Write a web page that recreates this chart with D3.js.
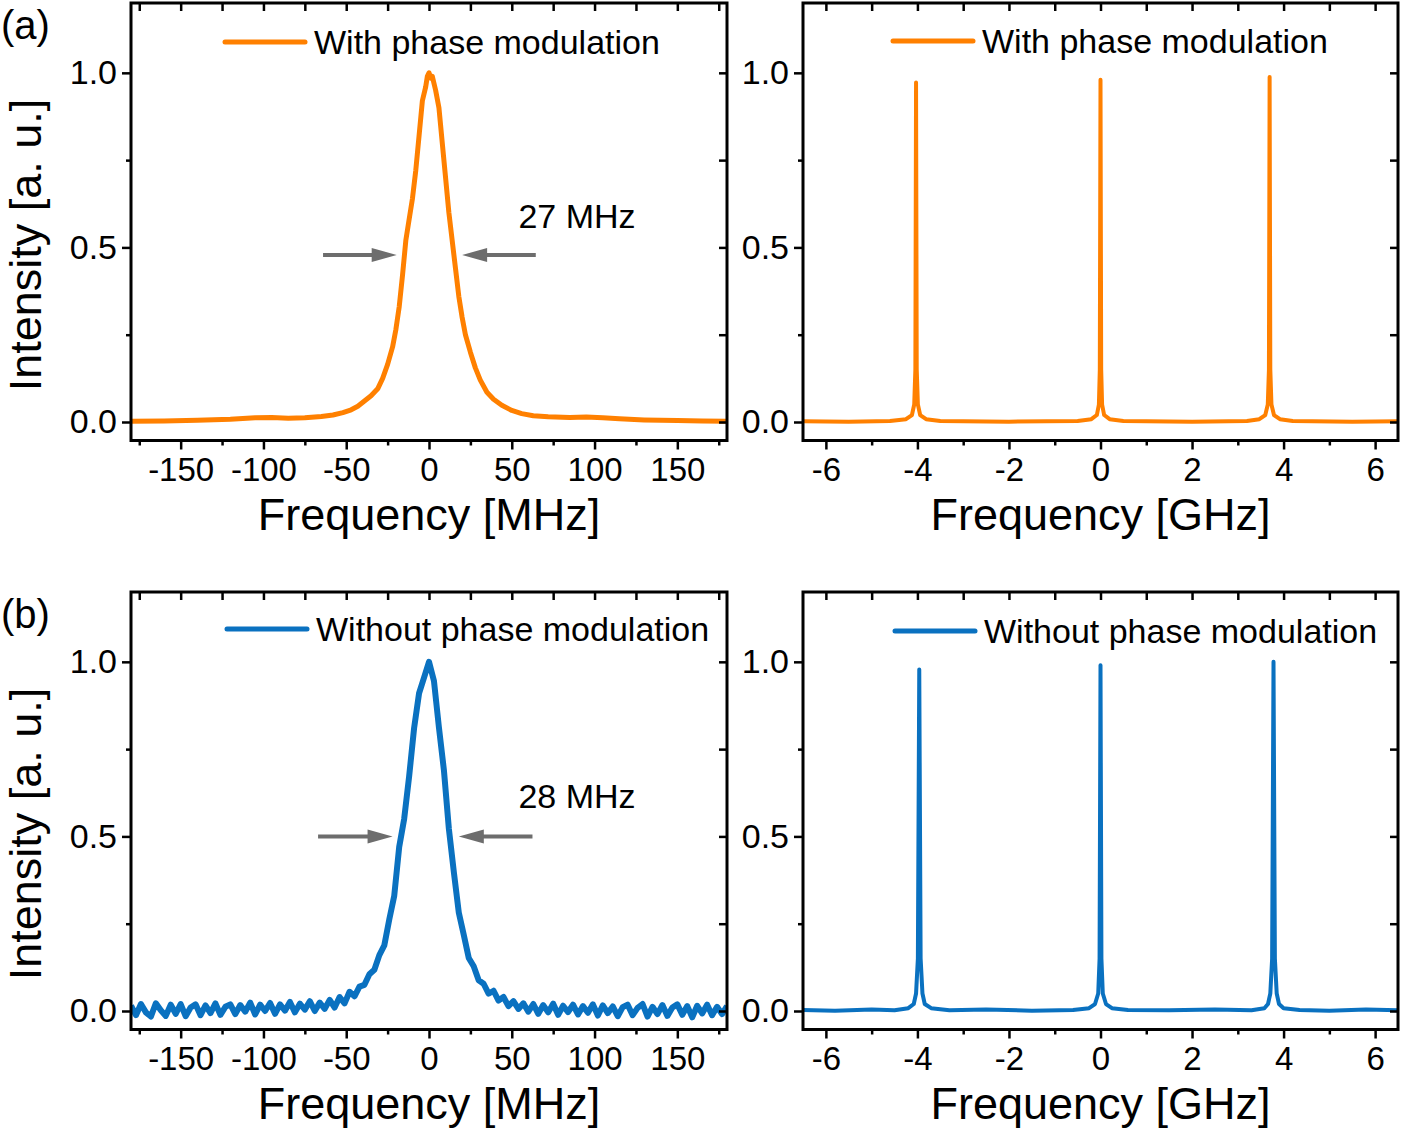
<!DOCTYPE html>
<meta charset="utf-8">
<style>
body { margin: 0; background: #fff; }
text { font-family: "Liberation Sans", Arial, sans-serif; fill: #000; }
</style>
<body>
<script src="https://d3js.org/d3.v7.min.js"></script>
<script>
// ---- data ----
// (a) left: with phase modulation, MHz scan
var mhzA = [-180,-160,-140,-120,-105,-95,-85,-75,-65,-58,-52,-47,-43,-39,-35,-31,-28,-25,-22,-20,
            -18,-16,-14,-12,-10,-8,-6,-4,-2,-1,0,1,2,4,6,8,10,12,14,16,
            18,20,22,25,28,31,35,39,44,50,56,63,72,85,95,105,115,130,150,165,180];
var intA = [0.002,0.003,0.005,0.008,0.012,0.013,0.011,0.012,0.016,0.020,0.027,0.035,0.045,0.060,0.075,0.095,0.125,0.165,0.215,0.265,
            0.33,0.42,0.52,0.58,0.64,0.72,0.82,0.92,0.96,0.99,1.0,0.985,0.99,0.95,0.90,0.80,0.70,0.60,0.52,0.44,
            0.36,0.30,0.25,0.20,0.155,0.12,0.085,0.065,0.048,0.033,0.024,0.018,0.015,0.013,0.014,0.012,0.009,0.006,0.004,0.003,0.002];

// (b) left: without phase modulation, sampled every 3 MHz from -180 to 180
var intB = [0.015,-0.012,0.020,-0.004,-0.016,0.022,0.002,-0.014,0.018,-0.008,
            0.020,-0.015,0.010,0.019,-0.012,0.016,-0.006,0.022,-0.011,0.012,
            0.019,-0.009,0.017,-0.002,0.024,-0.010,0.018,0.000,0.023,-0.008,
            0.019,0.001,0.026,-0.004,0.021,0.004,0.028,0.000,0.024,0.006,
            0.032,0.010,0.040,0.022,0.055,0.042,0.070,0.075,0.105,0.118,
            0.160,0.188,0.262,0.330,0.470,0.550,0.672,0.810,0.910,0.955,
            1.000,0.945,0.812,0.690,0.522,0.398,0.282,0.218,0.152,0.128,
            0.088,0.078,0.050,0.058,0.030,0.040,0.014,0.028,0.006,0.022,
            -0.002,0.020,-0.008,0.017,-0.004,0.021,-0.011,0.015,-0.003,0.018,
            -0.010,0.014,-0.005,0.019,-0.013,0.016,-0.006,0.013,-0.015,0.011,
            0.018,-0.012,0.009,0.020,-0.016,0.012,-0.009,0.017,-0.014,0.010,
            0.019,-0.011,0.014,-0.018,0.015,-0.007,0.018,-0.012,0.012,-0.009,
            0.014];
var mhzB = d3.range(-180, 180.1, 3);

// right panels: GHz scan
var ghzA = [-6.5,-5.5,-4.6,-4.25,-4.12,-4.07,-4.045,-4.03,-4.015,-3.99,-3.94,-3.81,-3.5,
            -2,-0.5,-0.2,-0.08,-0.035,-0.015,0,0.015,0.035,0.08,0.2,0.5,
            2,3.2,3.47,3.6,3.655,3.68,3.695,3.71,3.735,3.79,3.92,4.2,5.5,6.5];
var ghzIntA = [0.002,0.001,0.003,0.008,0.02,0.05,0.15,0.972,0.15,0.05,0.02,0.008,0.003,
               0.001,0.003,0.008,0.02,0.05,0.15,0.98,0.15,0.05,0.02,0.008,0.003,
               0.001,0.003,0.008,0.02,0.05,0.15,0.988,0.15,0.05,0.02,0.008,0.003,0.001,0.002];
var ghzB = [-6.5,-5.8,-5.0,-4.5,-4.2,-4.08,-4.03,-3.99,-3.96,-3.93,-3.89,-3.84,-3.7,-3.3,
            -2.5,-1.5,-0.6,-0.25,-0.12,-0.05,-0.02,0,0.02,0.05,0.12,0.25,0.6,
            1.5,2.5,3.3,3.58,3.66,3.71,3.75,3.78,3.81,3.85,3.9,4.0,4.35,5.0,5.8,6.5];
var ghzIntB = [0.003,0.001,0.004,0.002,0.008,0.02,0.05,0.15,0.978,0.15,0.05,0.02,0.008,0.002,
               0.004,0.001,0.003,0.008,0.02,0.05,0.15,0.99,0.15,0.05,0.02,0.008,0.003,
               0.002,0.004,0.002,0.008,0.02,0.05,0.15,1.0,0.15,0.05,0.02,0.008,0.003,0.001,0.004,0.002];

var mhzMajor = [-150,-100,-50,0,50,100,150];
var mhzMinor = [-175,-125,-75,-25,25,75,125,175];
var ghzMajor = [-6,-4,-2,0,2,4,6];
var ghzMinor = [-5,-3,-1,1,3,5];
var yMajor = [0, 0.5, 1.0];
var yMinor = [0.25, 0.75];

var orange = "#ff8000", blue = "#0a71c0", arrowGrey = "#6d6d6d";

var svg = d3.select("body").append("svg")
    .attr("width", 1403)
    .attr("height", 1130);

var defs = svg.append("defs");

function panel(o) {
  var x = d3.scaleLinear().domain(o.xDomain).range([o.left, o.right]);
  var y = d3.scaleLinear().domain([-0.053, 1.2]).range([o.top + 437.5, o.top]);
  var bottom = o.top + 437.5;

  var clipId = "clip" + o.id;
  defs.append("clipPath").attr("id", clipId)
    .append("rect")
      .attr("x", o.left).attr("y", o.top)
      .attr("width", o.right - o.left).attr("height", bottom - o.top);

  var line = d3.line()
      .x(function(d) { return x(d[0]); })
      .y(function(d) { return y(d[1]); });

  svg.append("path")
      .datum(d3.zip(o.xs, o.ys))
      .attr("clip-path", "url(#" + clipId + ")")
      .attr("fill", "none")
      .attr("stroke", o.color)
      .attr("stroke-width", o.lw)
      .attr("stroke-linejoin", "round")
      .attr("d", line);

  // axes: bottom/left outward with labels, top/right inward mirrors
  var g;
  g = svg.append("g").attr("transform", "translate(0," + bottom + ")")
      .call(d3.axisBottom(x).tickValues(o.xMajor).tickSize(9).tickPadding(8)
            .tickFormat(function(d) { return String(d); }));
  g.selectAll("text").attr("font-size", 33);
  svg.append("g").attr("transform", "translate(0," + bottom + ")")
      .call(d3.axisBottom(x).tickValues(o.xMinor).tickSize(5).tickFormat(""));
  svg.append("g").attr("transform", "translate(0," + o.top + ")")
      .call(d3.axisBottom(x).tickValues(o.xMajor.concat(o.xMinor)).tickSize(8).tickFormat(""));

  g = svg.append("g").attr("transform", "translate(" + o.left + ",0)")
      .call(d3.axisLeft(y).tickValues(yMajor).tickSize(9).tickPadding(5)
            .tickFormat(function(d) { return d.toFixed(1); }));
  g.selectAll("text").attr("font-size", 34);
  svg.append("g").attr("transform", "translate(" + o.left + ",0)")
      .call(d3.axisLeft(y).tickValues(yMinor).tickSize(5).tickFormat(""));
  svg.append("g").attr("transform", "translate(" + o.right + ",0)")
      .call(d3.axisLeft(y).tickValues(yMajor.concat(yMinor)).tickSize(8).tickFormat(""));

  svg.selectAll(".domain").remove();
  svg.selectAll(".tick line").attr("stroke", "#000").attr("stroke-width", 2.5);
  svg.selectAll(".tick text").attr("fill", "#000").attr("font-family", "Liberation Sans, Arial, sans-serif");

  svg.append("rect")
      .attr("x", o.left).attr("y", o.top)
      .attr("width", o.right - o.left).attr("height", bottom - o.top)
      .attr("fill", "none").attr("stroke", "#000").attr("stroke-width", 3);

  // axis titles
  svg.append("text")
      .attr("x", (o.left + o.right) / 2).attr("y", o.top + 527)
      .attr("text-anchor", "middle").attr("font-size", 45)
      .text(o.xTitle);
  if (o.yTitle) {
    svg.append("text")
        .attr("transform", "translate(41," + (o.top + 242) + ") rotate(-90)")
        .attr("text-anchor", "middle").attr("font-size", 45)
        .text(o.yTitle);
  }

  // legend
  svg.append("line")
      .attr("x1", o.legX).attr("x2", o.legX + 80)
      .attr("y1", o.top + o.legDy).attr("y2", o.top + o.legDy)
      .attr("stroke", o.color).attr("stroke-width", 5).attr("stroke-linecap", "round");
  svg.append("text")
      .attr("x", o.legX + 89).attr("y", o.top + o.legDy + 12)
      .attr("font-size", 34)
      .text(o.legend);

  // FWHM arrows
  if (o.arrows) {
    o.arrows.forEach(function(a) {
      var x0 = x(a.from), x1 = x(a.to), yy = y(a.y);
      var dir = x1 > x0 ? 1 : -1;
      svg.append("line")
          .attr("x1", x0).attr("x2", x1 - dir * 20)
          .attr("y1", yy).attr("y2", yy)
          .attr("stroke", arrowGrey).attr("stroke-width", 4);
      svg.append("path")
          .attr("d", "M" + x1 + "," + yy + "L" + (x1 - dir * 25) + "," + (yy - 7) +
                     "L" + (x1 - dir * 25) + "," + (yy + 7) + "Z")
          .attr("fill", arrowGrey);
    });
    svg.append("text")
        .attr("x", x(o.fwhmAt)).attr("y", y(o.fwhmY))
        .attr("font-size", 34)
        .text(o.fwhm);
  }
  if (o.tag) {
    svg.append("text").attr("x", 1).attr("y", o.top + 36)
        .attr("font-size", 40).text(o.tag);
  }
}

panel({id: 1, left: 131, right: 727, top: 3, xDomain: [-180, 180],
       xs: mhzA, ys: intA, color: orange, lw: 5,
       xMajor: mhzMajor, xMinor: mhzMinor,
       xTitle: "Frequency [MHz]", yTitle: "Intensity [a. u.]",
       legX: 225, legDy: 39, legend: "With phase modulation",
       arrows: [{from: -64, to: -19.5, y: 0.478}, {from: 64.5, to: 20, y: 0.478}],
       fwhm: "27 MHz", fwhmAt: 54, fwhmY: 0.555, tag: "(a)"});

panel({id: 2, left: 803, right: 1398, top: 3, xDomain: [-6.5, 6.5],
       xs: ghzA, ys: ghzIntA, color: orange, lw: 4,
       xMajor: ghzMajor, xMinor: ghzMinor,
       xTitle: "Frequency [GHz]",
       legX: 893, legDy: 38, legend: "With phase modulation"});

panel({id: 3, left: 131, right: 727, top: 592, xDomain: [-180, 180],
       xs: mhzB, ys: intB, color: blue, lw: 6,
       xMajor: mhzMajor, xMinor: mhzMinor,
       xTitle: "Frequency [MHz]", yTitle: "Intensity [a. u.]",
       legX: 227, legDy: 37, legend: "Without phase modulation",
       arrows: [{from: -67, to: -22, y: 0.5}, {from: 62.5, to: 18, y: 0.5}],
       fwhm: "28 MHz", fwhmAt: 54, fwhmY: 0.58, tag: "(b)"});

panel({id: 4, left: 803, right: 1398, top: 592, xDomain: [-6.5, 6.5],
       xs: ghzB, ys: ghzIntB, color: blue, lw: 4,
       xMajor: ghzMajor, xMinor: ghzMinor,
       xTitle: "Frequency [GHz]",
       legX: 895, legDy: 39, legend: "Without phase modulation"});
</script>
</body>
